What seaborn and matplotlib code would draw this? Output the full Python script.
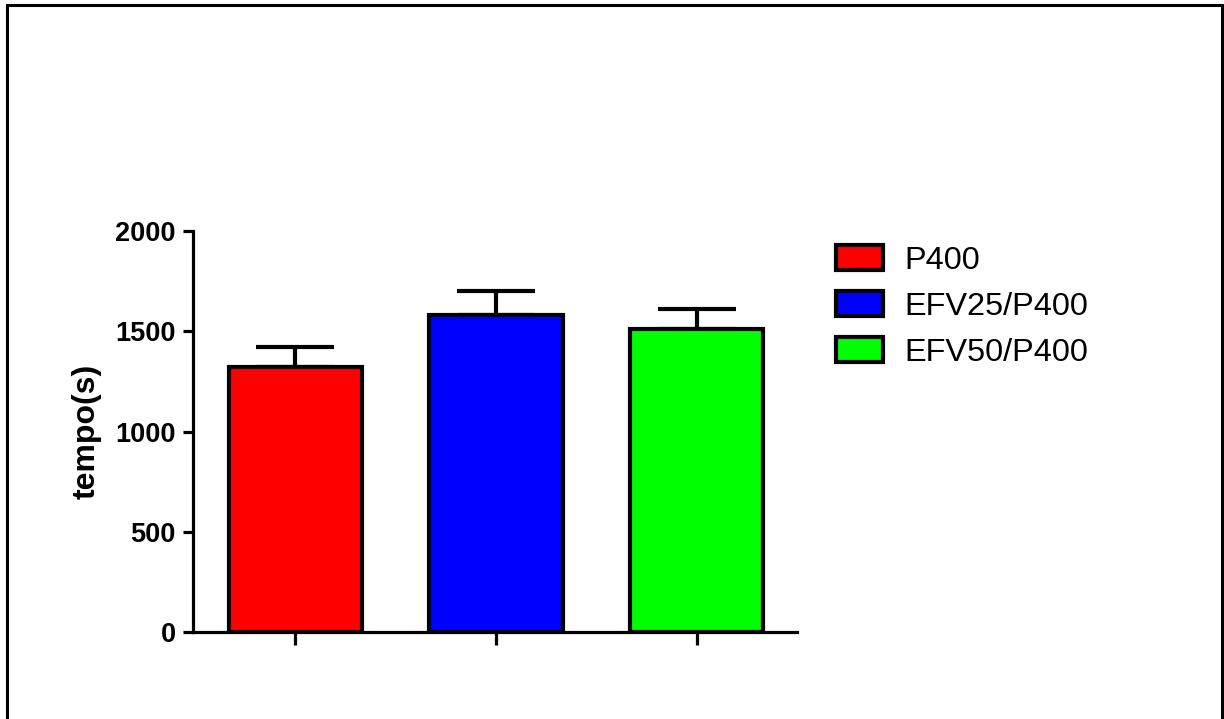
import matplotlib
matplotlib.use("Agg")
import matplotlib.pyplot as plt
from matplotlib.patches import Rectangle
import seaborn as sns
import pandas as pd

# Group means and upper error (SEM) of the time measurements
groups = ["P400", "EFV25/P400", "EFV50/P400"]
means = [1322, 1583, 1510]
errors = [100, 118, 100]
colors = ["#ff0000", "#0000ff", "#00ff00"]
y_ticks = [0, 500, 1000, 1500, 2000]
y_label = "tempo(s)"

sns.set_theme(style="ticks")
plt.rcParams["font.family"] = ["Liberation Sans", "DejaVu Sans"]
plt.rcParams["text.color"] = "black"
plt.rcParams["axes.labelcolor"] = "black"
plt.rcParams["xtick.color"] = "black"
plt.rcParams["ytick.color"] = "black"

df = pd.DataFrame({"grupo": groups, "tempo": means})

fig = plt.figure(figsize=(12.24, 7.19), dpi=100)
ax = fig.add_axes([0.1577, 0.121, 0.4934, 0.5577])

sns.barplot(data=df, x="grupo", y="tempo", hue="grupo", palette=colors,
            order=groups, hue_order=groups, width=0.665, errorbar=None,
            saturation=1, edgecolor="black", linewidth=3.0, legend=True,
            ax=ax, zorder=3)

# one-sided (upper) error bars
ax.errorbar(range(len(groups)), means, yerr=[[0] * len(groups), errors],
            fmt="none", ecolor="black", elinewidth=3.0, capsize=28,
            capthick=3.0, zorder=2)

ax.set_xlim(-0.51, 2.50)
ax.set_ylim(0, 2000)
ax.set_yticks(y_ticks)
ax.set_yticklabels([str(t) for t in y_ticks], fontsize=19.5, fontweight="bold")
ax.set_xticks(range(len(groups)))
ax.set_xticklabels([])
ax.set_xlabel("")
ax.set_ylabel(y_label, fontsize=23, fontweight="bold", labelpad=10)

for side in ["top", "right"]:
    ax.spines[side].set_visible(False)
for side in ["left", "bottom"]:
    ax.spines[side].set_linewidth(2.3)
    ax.spines[side].set_color("black")
ax.tick_params(axis="y", length=7.5, width=2.3, color="black", pad=5)
ax.tick_params(axis="x", length=9, width=2.3, color="black")

handles, labels = ax.get_legend_handles_labels()
ax.legend(handles, labels, loc="upper left",
          bbox_to_anchor=(836 / 1224, 1 - 245 / 719),
          bbox_transform=fig.transFigure, frameon=False, fontsize=23.4,
          handlelength=1.45, handleheight=0.83, handletextpad=0.64,
          labelspacing=0.46, borderpad=0, borderaxespad=0)

# outer frame around the figure
fig.patches.append(Rectangle((7 / 1224, -0.05), (1222 - 7) / 1224, 1.05 - 5 / 719,
                             transform=fig.transFigure, fill=False,
                             edgecolor="black", linewidth=2.2, zorder=10))

fig.savefig("out.png", dpi=100, facecolor="white")
